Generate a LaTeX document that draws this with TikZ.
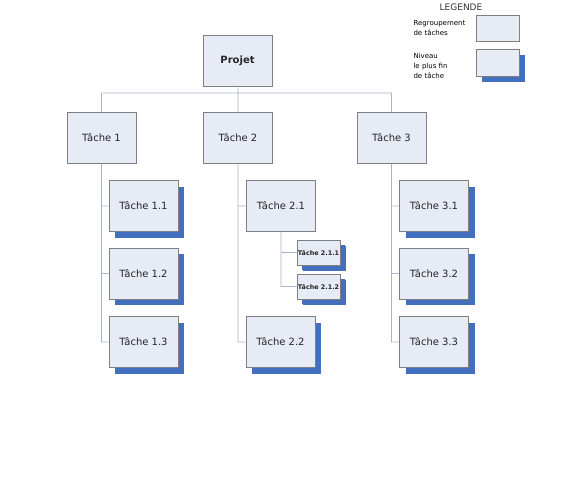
\documentclass[tikz,border=0pt]{standalone}
\usepackage{fontspec}
\setmainfont{DejaVu Sans}
\usetikzlibrary{shadows}

\definecolor{boxfill}{HTML}{E6EBF5}
\definecolor{boxline}{HTML}{7F7F7F}
\definecolor{shadowblue}{HTML}{4270BE}
\definecolor{linkline}{HTML}{A6B4CC}

\begin{document}
\begin{tikzpicture}[x={(1pt,0)},y={(0,-1pt)},
    tache/.style={draw=boxline,line width=0.9pt,fill=boxfill,minimum width=69pt,minimum height=51pt,inner sep=1pt,text=black!85,font=\fontsize{10}{12}\selectfont},
    feuille/.style={tache,drop shadow={shadow xshift=6pt,shadow yshift=-6pt,fill=shadowblue,opacity=1}},
    petite/.style={feuille,minimum width=43pt,minimum height=25pt,inner sep=0pt,font=\fontsize{6.4}{7}\selectfont\bfseries,drop shadow={shadow xshift=5pt,shadow yshift=-5pt,fill=shadowblue,opacity=1}},
    lien/.style={draw=linkline,line width=0.8pt}]
        \useasboundingbox (0,0) rectangle (588,476);
        \node[anchor=center,font=\fontsize{9}{10}\selectfont,text=black!80] (legende) at (461,7) {LEGENDE};
        \node[anchor=west,align=left,font=\fontsize{7}{10}\selectfont] (legtxta) at (410,28) {Regroupement\\de tâches};
        \node[anchor=west,align=left,font=\fontsize{7}{10}\selectfont] (legtxtb) at (410,66) {Niveau\\le plus fin\\de tâche};
        \node[tache,minimum width=43pt,minimum height=26pt] (lega) at (497.5,28) {};
        \node[feuille,minimum width=43pt,minimum height=27pt] (legb) at (497.5,62.5) {};
        \node[tache,font=\fontsize{10}{12}\selectfont\bfseries] (projet) at (237.5,60.5) {Projet};
        \node[tache] (t1) at (101.5,138) {Tâche 1};
        \node[tache] (t2) at (238,138) {Tâche 2};
        \node[tache] (t3) at (391.5,138) {Tâche 3};
        \node[feuille] (t11) at (143.5,206) {Tâche 1.1};
        \node[feuille] (t12) at (143.5,273.5) {Tâche 1.2};
        \node[feuille] (t13) at (143.5,342) {Tâche 1.3};
        \node[tache] (t21) at (281,206) {Tâche 2.1};
        \node[petite] (t211) at (318.5,252.5) {Tâche 2.1.1};
        \node[petite] (t212) at (318.5,286.5) {Tâche 2.1.2};
        \node[feuille] (t22) at (280.5,342) {Tâche 2.2};
        \node[feuille] (t31) at (434,206) {Tâche 3.1};
        \node[feuille] (t32) at (434,273.5) {Tâche 3.2};
        \node[feuille] (t33) at (434,342) {Tâche 3.3};
        \coordinate (bus) at (238,93);
        \draw[lien]
        (projet) -- (bus)
        (t1.north) |- (bus) -| (t3.north)
        (bus) -- (t2.north)
        (t1.south) |- (t11.west)
        (t1.south) |- (t12.west)
        (t1.south) |- (t13.west)
        (t2.south) |- (t21.west)
        (t2.south) |- (t22.west)
        (t21.south) |- (t211.west)
        (t21.south) |- (t212.west)
        (t3.south) |- (t31.west)
        (t3.south) |- (t32.west)
        (t3.south) |- (t33.west);
      \end{tikzpicture}
\end{document}
